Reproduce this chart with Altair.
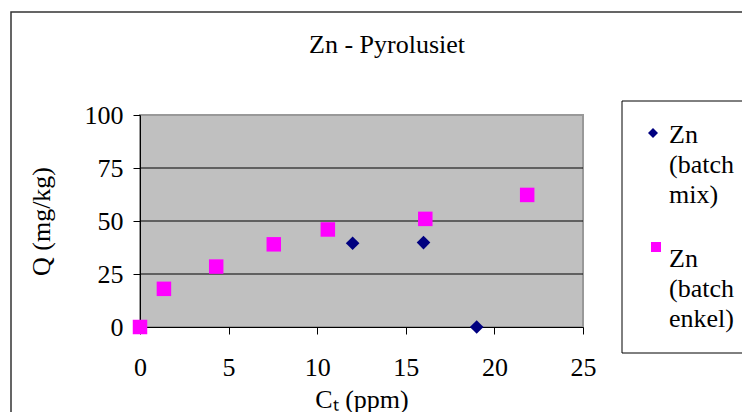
import altair as alt
import pandas as pd

# ---- data ----
mix_x = [12.0, 16.0, 19.0]
mix_y = [39.5, 39.8, 0.0]
enkel_x = [0.0, 1.35, 4.3, 7.55, 10.6, 16.1, 21.85]
enkel_y = [0.0, 18.0, 28.5, 39.0, 46.0, 51.0, 62.3]
series = ["Zn (batch mix)", "Zn (batch enkel)"]
legend_labels = ["Zn|(batch|mix)", "\u00a0Zn|(batch|enkel)"]
colors = ["#000080", "#ff00ff"]
shapes = ["diamond", "square"]
x_ticks = [0, 5, 10, 15, 20, 25]
y_ticks = [0, 25, 50, 75, 100]
grid_vals = [25, 50, 75]
title_text = ["Zn - Pyrolusiet"]

FONT = "Liberation Serif"

df = pd.concat([
    pd.DataFrame({"x": mix_x, "y": mix_y, "series": series[0]}),
    pd.DataFrame({"x": enkel_x, "y": enkel_y, "series": series[1]}),
], ignore_index=True)

xscale = alt.Scale(domain=[0, 25], nice=False, zero=False)
yscale = alt.Scale(domain=[0, 100], nice=False)

xaxis = alt.Axis(values=x_ticks, grid=False, domainColor="black", tickColor="black",
                 tickSize=7, labelFont=FONT, labelFontSize=26, labelColor="black",
                 labelPadding=20, labelFlush=False, labelOverlap=False,
                 titleFont=FONT, titleFontSize=26, titleFontWeight="normal",
                 titleColor="black", titlePadding=6)
yaxis = alt.Axis(values=y_ticks, grid=False, domainColor="black", tickColor="black",
                 tickSize=7, labelFont=FONT, labelFontSize=26, labelColor="black",
                 labelPadding=10, labelFlush=False, labelOverlap=False,
                 titleFont=FONT, titleFontSize=26, titleFontWeight="normal",
                 titleColor="black", titlePadding=30)

XT = "C\u209c (ppm)"
YT = "Q (mg/kg)"

one = pd.DataFrame({"k": [0]})

frame = alt.Chart(one).mark_rect(
    fill="transparent", stroke="#333333", strokeWidth=1.5
).encode(x=alt.value(-129), x2=alt.value(900), y=alt.value(-103), y2=alt.value(500))

legend_box = alt.Chart(one).mark_rect(
    fill="white", stroke="black", strokeWidth=1
).encode(x=alt.value(482), x2=alt.value(900), y=alt.value(-14), y2=alt.value(238))

title = alt.Chart(pd.DataFrame({"t": title_text})).mark_text(
    font=FONT, fontSize=26, color="black", align="center", baseline="alphabetic"
).encode(text="t:N", x=alt.value(247), y=alt.value(-62))

grid = alt.Chart(pd.DataFrame({"g": grid_vals})).mark_rule(color="black", strokeWidth=1).encode(
    y=alt.Y("g:Q", scale=yscale, axis=yaxis, title=YT)
)

# legend (drawn as marks so that the serif font and line spacing match)
leg_sym_x = [513, 516]
leg_sym_y = [18, 132]
leg_txt_y = [28, 152]
legend_layers = []
for i in range(2):
    legend_layers.append(
        alt.Chart(one).mark_point(filled=True, opacity=1, shape=shapes[i], color=colors[i],
                                  size=100).encode(x=alt.value(leg_sym_x[i]), y=alt.value(leg_sym_y[i]))
    )
    legend_layers.append(
        alt.Chart(pd.DataFrame({"t": [legend_labels[i]]})).mark_text(
            font=FONT, fontSize=26, color="black", align="left", baseline="alphabetic",
            lineBreak="|", lineHeight=30
        ).encode(text="t:N", x=alt.value(529), y=alt.value(leg_txt_y[i]))
    )

pts = alt.Chart(df).mark_point(filled=True, opacity=1).encode(
    x=alt.X("x:Q", scale=xscale, axis=xaxis, title=XT),
    y=alt.Y("y:Q", scale=yscale, axis=yaxis, title=YT),
    color=alt.Color("series:N", scale=alt.Scale(domain=series, range=colors), legend=None),
    shape=alt.Shape("series:N", scale=alt.Scale(domain=series, range=shapes), legend=None),
    size=alt.Size("series:N", scale=alt.Scale(domain=series, range=[185, 210]), legend=None),
)

chart = alt.layer(frame, legend_box, title, grid, pts, *legend_layers).properties(
    width=443, height=212,
    autosize=alt.AutoSizeParams(type="none"),
    padding={"left": 132, "top": 107, "right": 159, "bottom": 85},
).configure_view(
    fill="#c0c0c0", stroke="#999999", strokeWidth=2
).configure_axis(
    labelFont=FONT, titleFont=FONT
)

chart.save("out.html", embed_options={"renderer": "svg", "actions": False})
